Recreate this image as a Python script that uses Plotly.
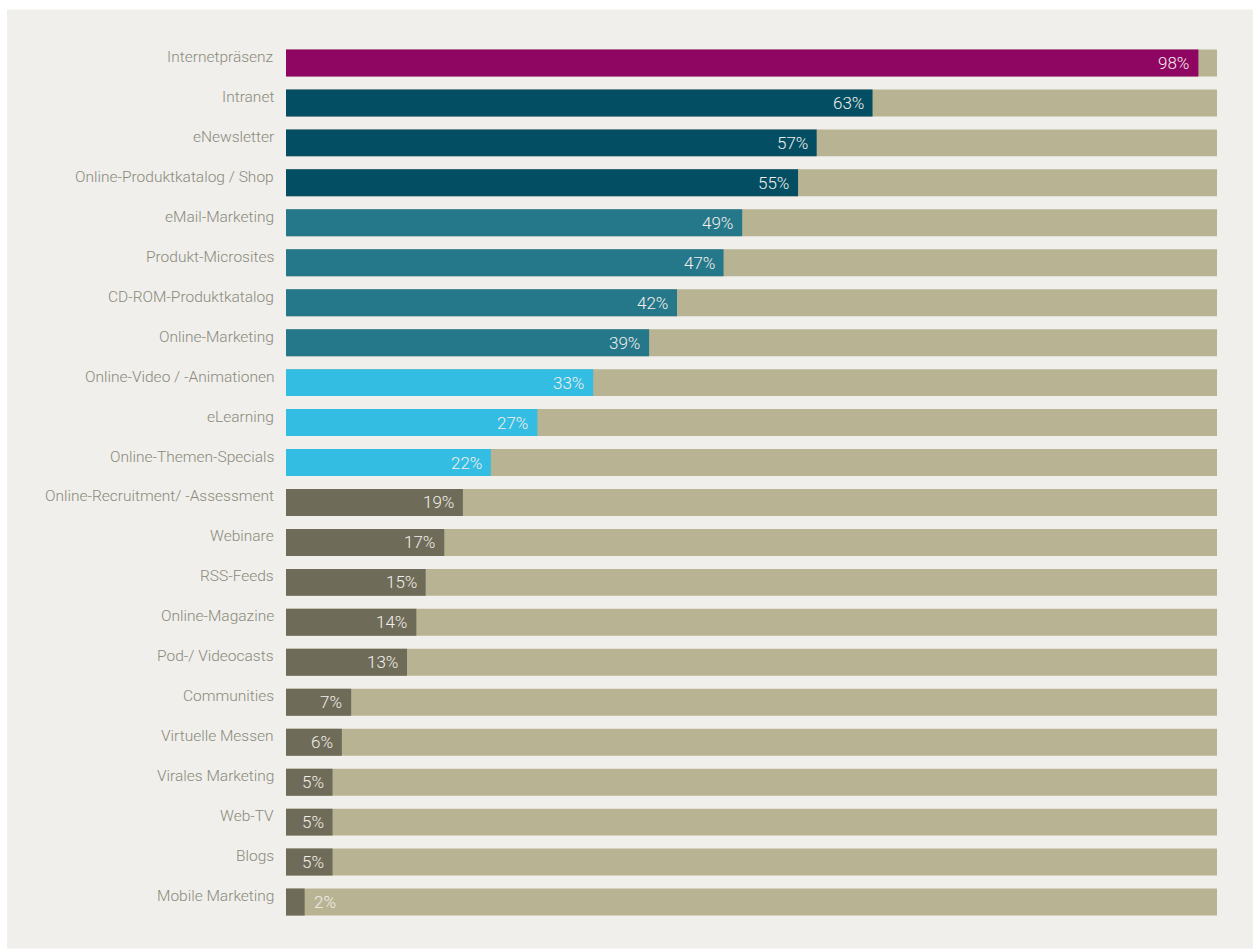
import plotly.graph_objects as go

# Usage share of online instruments (percent), top to bottom
categories = [
    "Internetpräsenz", "Intranet", "eNewsletter", "Online-Produktkatalog / Shop",
    "eMail-Marketing", "Produkt-Microsites", "CD-ROM-Produktkatalog", "Online-Marketing",
    "Online-Video / -Animationen", "eLearning", "Online-Themen-Specials",
    "Online-Recruitment/ -Assessment", "Webinare", "RSS-Feeds", "Online-Magazine",
    "Pod-/ Videocasts", "Communities", "Virtuelle Messen", "Virales Marketing",
    "Web-TV", "Blogs", "Mobile Marketing",
]
values = [98, 63, 57, 55, 49, 47, 42, 39, 33, 27, 22, 19, 17, 15, 14, 13, 7, 6, 5, 5, 5, 2]
groups = [0, 1, 1, 1, 2, 2, 2, 2, 3, 3, 3, 4, 4, 4, 4, 4, 4, 4, 4, 4, 4, 4]
group_colors = ["#8E0662", "#034E62", "#25788A", "#33BDE2", "#6E6B58"]

PANEL = "#F0EFEB"
TRACK = "#B8B493"
LABEL_GREY = "#8A8A7B"
VALUE_TEXT = "#F2EEEA"
FONT = "Roboto"

bar_colors = [group_colors[g] for g in groups]

fig = go.Figure()
fig.add_trace(go.Bar(
    y=categories, x=[100] * len(categories), orientation="h",
    marker=dict(color=TRACK, line=dict(width=0)), width=0.675,
    hoverinfo="skip", showlegend=False,
))
fig.add_trace(go.Bar(
    y=categories, x=values, orientation="h",
    marker=dict(color=bar_colors, line=dict(width=0)), width=0.675,
    showlegend=False,
))

annotations = []
for cat, v in zip(categories, values):
    # category name left of the bar
    annotations.append(dict(
        x=0, xref="paper", y=cat, yref="y", text=cat, showarrow=False,
        xanchor="right", yanchor="middle", xshift=-10, yshift=6,
        font=dict(family=FONT, size=15.5, color=LABEL_GREY, weight=300),
    ))
    # value at the end of the bar
    inside = v >= 4
    annotations.append(dict(
        x=v, xref="x", y=cat, yref="y", text=f"{v}%", showarrow=False,
        xanchor="right" if inside else "left", yanchor="middle",
        xshift=-7 if inside else 7,
        font=dict(family=FONT, size=17, color=VALUE_TEXT, weight=300),
    ))

plot_w = 1217 - 286
plot_h = 22 * 40
top = 42.5
bottom_y = top + plot_h

fig.update_layout(
    width=1253, height=949,
    margin=dict(l=286, r=1253 - 1217, t=top, b=949 - bottom_y, pad=0),
    paper_bgcolor="white", plot_bgcolor=PANEL,
    barmode="overlay",
    xaxis=dict(range=[0, 100], visible=False, fixedrange=True),
    yaxis=dict(categoryorder="array", categoryarray=categories[::-1],
               showticklabels=False, showgrid=False, zeroline=False,
               fixedrange=True),
    annotations=annotations,
    shapes=[dict(
        type="rect", xref="paper", yref="paper", layer="below",
        x0=(7 - 286) / plot_w, x1=(1253 - 286) / plot_w,
        y0=(bottom_y - 949) / plot_h, y1=(bottom_y - 9) / plot_h,
        fillcolor=PANEL, line=dict(width=0),
    )],
    font=dict(family=FONT),
)

fig.write_html("out.html")
